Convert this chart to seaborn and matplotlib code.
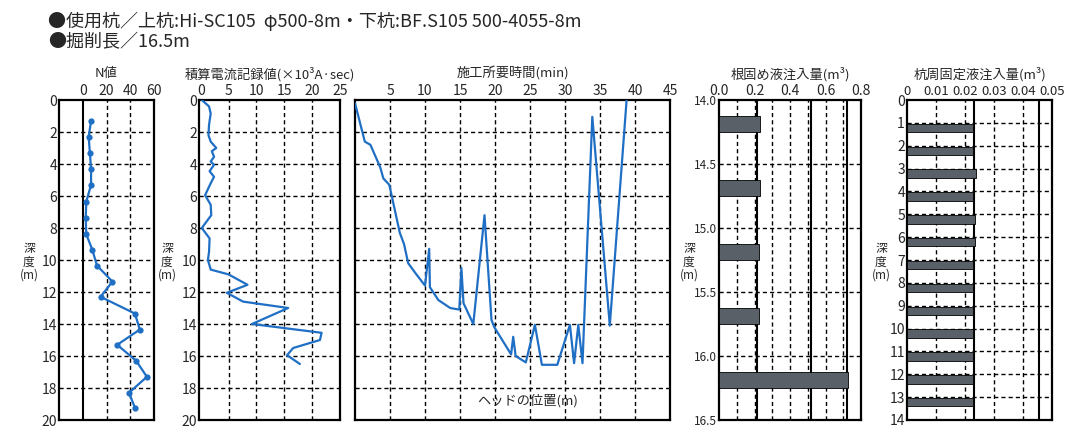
import matplotlib
matplotlib.use("Agg")
import matplotlib.pyplot as plt
import numpy as np
import seaborn as sns

# N値 (深度 m, N)
n_depth = [1.3, 2.3, 3.3, 4.3, 5.3, 6.35, 7.35, 8.4, 9.35, 10.35, 11.35, 12.3,
           13.35, 14.35, 15.3, 16.3, 17.3, 18.3, 19.25]
n_value = [7, 5, 6, 7, 7, 3, 2.5, 3, 8, 12, 25, 15, 44, 48, 29, 45, 54, 39, 44]

# 積算電流記録値 (×10^3 A·sec)
cur_depth = [0, 0.4, 0.85, 1.55, 2.2, 2.6, 3.0, 3.2, 3.55, 3.85, 4.05, 4.45, 4.8,
             5.2, 5.95, 6.55, 7.2, 8.0, 8.65, 9.5, 10.0, 10.6, 10.9, 11.55, 12.05,
             12.6, 13.0, 14.0, 14.55, 15.0, 15.5, 15.95, 16.5]
cur_value = [0.2, 1.5, 1.8, 1.5, 1.4, 1.8, 2.8, 2.0, 2.4, 1.8, 2.4, 1.6, 2.4,
             1.8, 0.8, 1.8, 1.9, 0.2, 1.6, 1.5, 1.3, 1.8, 5.0, 8.4, 4.7,
             7.6, 15.7, 9.2, 21.7, 21.4, 16.6, 15.5, 17.8]

# 施工所要時間 (min) と ヘッドの位置 (m)
t_time = [0, 1.4, 2.2, 2.9, 3.6, 4.05, 4.9, 5.5, 6.4, 7.0, 7.6, 8.6, 10.0, 10.6,
          10.7, 11.9, 13.6, 14.9, 15.2, 15.5, 16.9, 18.5, 19.5, 19.9, 22.3, 22.6,
          22.95, 24.4, 25.7, 26.7, 28.9, 30.7, 31.3, 31.9, 32.5, 33.9, 36.4, 38.8]
t_depth = [0.2, 2.6, 2.8, 3.5, 4.2, 4.9, 5.3, 6.5, 8.3, 9.0, 10.2, 10.8, 11.6, 9.3,
           11.7, 12.5, 13.0, 13.1, 10.5, 12.7, 14.0, 7.2, 13.75, 14.2, 15.9, 14.8,
           16.0, 16.4, 14.05, 16.55, 16.55, 14.05, 16.45, 14.05, 16.45, 1.05, 14.1, 0.0]

# 根固め液注入量 (m3)
root_depth = [14.185, 14.685, 15.185, 15.685, 16.185]
root_value = [0.23, 0.23, 0.225, 0.225, 0.725]
root_refs = [0.215, 0.52, 0.72]

# 杭周固定液注入量 (m3)
pile_depth = [1.22, 2.22, 3.22, 4.22, 5.22, 6.22, 7.22, 8.22, 9.22, 10.22,
              11.22, 12.22, 13.22]
pile_value = [0.0228, 0.0228, 0.0239, 0.0228, 0.0234, 0.0233, 0.0227, 0.0227,
              0.0228, 0.0226, 0.0227, 0.0226, 0.0226]
pile_refs = [0.023, 0.0455]

titles = ["N値", "積算電流記録値(×10³A·sec)", "施工所要時間(min)",
          "根固め液注入量(m³)", "杭周固定液注入量(m³)"]
header1 = "●使用杭／上杭:Hi-SC105  φ500-8m・下杭:BF.S105 500-4055-8m"
header2 = "●掘削長／16.5m"

BLUE = "#1f6fc5"
BAR = "#5a6068"

sns.set_style("white")
plt.rcParams['font.family'] = ['Noto Sans CJK JP', 'DejaVu Sans']

W, H = 1072, 430
fig = plt.figure(figsize=(W / 100, H / 100), dpi=100)


def panel(x0, x1, y0=100, y1=420):
    return fig.add_axes([x0 / W, 1 - y1 / H, (x1 - x0) / W, (y1 - y0) / H])


def style(ax, title, xs, ys):
    for v in xs:
        ax.axvline(v, color="black", lw=1.0, ls=(0, (3, 2.2)), zorder=1)
    for v in ys:
        ax.axhline(v, color="black", lw=1.0, ls=(0, (3, 2.2)), zorder=1)
    for s in ax.spines.values():
        s.set_visible(True)
        s.set_linewidth(1.6)
        s.set_color("black")
    ax.xaxis.tick_top()
    ax.tick_params(length=0, pad=1.5, labelsize=10)
    ax.set_xlabel("")
    ax.set_ylabel("")
    ax.text(0.5, 1 + 26 / 320, title, transform=ax.transAxes,
            ha="center", va="center", fontsize=9.5)


def depth_label(x):
    fig.text(x / W, 1 - 262 / H, "深\n度\n(m)", ha="center", va="center",
             fontsize=8.5, linespacing=1.0)


# 1: N値
ax1 = panel(59, 154)
ax1.axvline(0, color="black", lw=1.5, zorder=1)
sns.lineplot(x=n_value, y=n_depth, ax=ax1, sort=False, estimator=None,
             color=BLUE, lw=1.6, marker="o", markersize=4.5,
             markeredgewidth=0, zorder=3)
ax1.set_xlim(-20, 60)
ax1.set_ylim(20, 0)
ax1.set_xticks([0, 20, 40, 60])
ax1.set_yticks(range(0, 21, 2))
style(ax1, titles[0], [20, 40], range(2, 19, 2))
depth_label(29)

# 2: 積算電流
ax2 = panel(199, 340)
sns.lineplot(x=cur_value, y=cur_depth, ax=ax2, sort=False, estimator=None,
             color=BLUE, lw=1.6, zorder=3)
ax2.set_xlim(-0.3, 25)
ax2.set_ylim(20, 0)
ax2.set_xticks(range(0, 26, 5))
ax2.set_yticks(range(0, 21, 2))
style(ax2, titles[1], range(5, 21, 5), range(2, 19, 2))
depth_label(167)

# 3: 施工所要時間
ax3 = panel(355, 670)
sns.lineplot(x=t_time, y=t_depth, ax=ax3, sort=False, estimator=None,
             color=BLUE, lw=1.6, zorder=3)
ax3.set_xlim(0, 45)
ax3.set_ylim(20, 0)
ax3.set_xticks(range(5, 46, 5))
ax3.set_yticks([])
style(ax3, titles[2], range(5, 41, 5), range(2, 19, 2))
ax3.text(24.6, 18.8, "ヘッドの位置(m)", ha="center", va="center", fontsize=9.5)

# 4: 根固め液注入量
ax4 = panel(719, 861)
sns.barplot(x=root_value, y=root_depth, ax=ax4, orient="y", native_scale=True,
            width=0.25, color=BAR, saturation=1, edgecolor="black",
            linewidth=0.6, errorbar=None, zorder=3)
for v in root_refs:
    ax4.axvline(v, color="black", lw=1.5, zorder=2)
ax4.set_xlim(0, 0.8)
ax4.set_ylim(16.5, 14.0)
ax4.set_xticks(np.arange(0, 0.81, 0.2))
ax4.set_xticklabels([f"{v:.1f}" for v in np.arange(0, 0.81, 0.2)])
ax4.set_yticks(np.arange(14.0, 16.51, 0.5))
ax4.set_yticklabels([f"{v:.1f}" for v in np.arange(14.0, 16.51, 0.5)])
style(ax4, titles[3], np.arange(0.1, 0.75, 0.1), np.arange(14.5, 16.1, 0.5))
ax4.tick_params(axis="y", labelsize=8.5)
depth_label(689)

# 5: 杭周固定液注入量
ax5 = panel(907, 1052)
sns.barplot(x=pile_value, y=pile_depth, ax=ax5, orient="y", native_scale=True,
            width=0.37, color=BAR, saturation=1, edgecolor="black",
            linewidth=0.6, errorbar=None, zorder=3)
for v in pile_refs:
    ax5.axvline(v, color="black", lw=1.5, zorder=2)
ax5.set_xlim(0, 0.05)
ax5.set_ylim(14, 0)
ax5.set_xticks(np.arange(0, 0.051, 0.01))
ax5.set_xticklabels(["0", "0.01", "0.02", "0.03", "0.04", "0.05"])
ax5.set_yticks(range(0, 15))
style(ax5, titles[4], np.arange(0.01, 0.045, 0.01), range(1, 14))
ax5.tick_params(axis="x", labelsize=9.5)
depth_label(881)

fig.text(48 / W, 1 - 21 / H, header1, ha="left", va="center", fontsize=13)
fig.text(48 / W, 1 - 42 / H, header2, ha="left", va="center", fontsize=13)

fig.savefig("out.png", dpi=100, facecolor="white")
